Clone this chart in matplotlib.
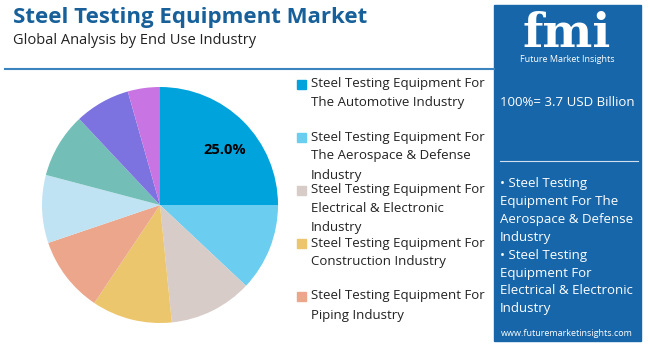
import matplotlib.pyplot as plt
from matplotlib.patches import Rectangle
import matplotlib.lines as mlines

# data
segments = [
    "Steel Testing Equipment For The Automotive Industry",
    "Steel Testing Equipment For The Aerospace & Defense Industry",
    "Steel Testing Equipment For Electrical & Electronic Industry",
    "Steel Testing Equipment For Construction Industry",
    "Steel Testing Equipment For Piping Industry",
    "Other 1", "Other 2", "Other 3", "Other 4",
]
shares = [25.0, 12.0, 11.4, 11.0, 10.4, 9.3, 8.9, 7.6, 4.4]
colors = ["#00a3dc", "#6bcdef", "#d7ccc8", "#ecc66c", "#eba68b",
          "#c0e3f3", "#73bfb7", "#7c73e1", "#c974e3"]
legend_lines = [
    ["Steel Testing Equipment For", "The Automotive Industry"],
    ["Steel Testing Equipment For", "The Aerospace & Defense", "Industry"],
    ["Steel Testing Equipment For", "Electrical & Electronic", "Industry"],
    ["Steel Testing Equipment For", "Construction Industry"],
    ["Steel Testing Equipment For", "Piping Industry"],
]
legend_top = [84, 137, 190, 243, 296]
total_label = "100%= 3.7 USD Billion"
key_lines = ["• Steel Testing", "Equipment For The", "Aerospace & Defense", "Industry",
             "• Steel Testing", "Equipment For", "Electrical & Electronic", "Industry"]

plt.rcParams["font.family"] = ["Open Sans", "DejaVu Sans"]
W, H = 650, 351
fig = plt.figure(figsize=(W / 100, H / 100), dpi=100)
fig.patch.set_facecolor("white")


def fx(x):
    return x / W


def fy(y):
    return 1 - y / H


# titles
fig.text(fx(13), fy(17), "Steel Testing Equipment Market", fontsize=16, fontweight="bold",
         color="#17609a", va="center", ha="left")
fig.text(fx(13), fy(40), "Global Analysis by End Use Industry", fontsize=10.5,
         color="#222222", va="center", ha="left")
fig.add_artist(mlines.Line2D([fx(5), fx(494)], [fy(69), fy(69)], color="#3b84bd", lw=1.5))

# pie
cx, cy, r = 160, 205, 118
ax = fig.add_axes([fx(cx - r), fy(cy + r), 2 * r / W, 2 * r / H])
wedges, _ = ax.pie(shares, colors=colors, startangle=90, counterclock=False,
                   wedgeprops=dict(linewidth=0))
ax.set_xlim(-1, 1)
ax.set_ylim(-1, 1)
ax.set_aspect("equal")
ax.text(0.55, 0.47, f"{shares[0]:.1f}%", fontsize=10.5, fontweight="bold",
        ha="center", va="center")

# legend (first five segments)
for i, lines in enumerate(legend_lines):
    y0 = legend_top[i]
    fig.add_artist(Rectangle((fx(297), fy(y0 + 5)), 9 / W, 9 / H, color=colors[i],
                             transform=fig.transFigure))
    for j, line in enumerate(lines):
        fig.text(fx(311), fy(y0 + j * 19), line, fontsize=9.5, color="#222222",
                 va="center", ha="left")

# right panel
fig.add_artist(Rectangle((fx(494), fy(341)), 147 / W, 336 / H, color="#1766a9",
                         transform=fig.transFigure, zorder=0))
fig.text(fx(567), fy(34), "fmi", fontsize=34, fontweight="bold", family="DejaVu Serif",
         color="white", ha="center", va="center")
fig.text(fx(567), fy(60), "Future Market Insights", fontsize=6.5, color="white",
         ha="center", va="center")
fig.text(fx(567), fy(103), total_label, fontsize=9.5, color="white", ha="center", va="center")
fig.add_artist(mlines.Line2D([fx(500), fx(638)], [fy(161), fy(161)], color="#d0e0f0", lw=0.8))
for j, line in enumerate(key_lines):
    fig.text(fx(500), fy(184 + j * 17.8), line, fontsize=9.5, color="white",
             ha="left", va="center")
fig.text(fx(567), fy(334), "www.futuremarketinsights.com", fontsize=6.5, color="white",
         ha="center", va="center")

fig.savefig("out.png", dpi=100)
